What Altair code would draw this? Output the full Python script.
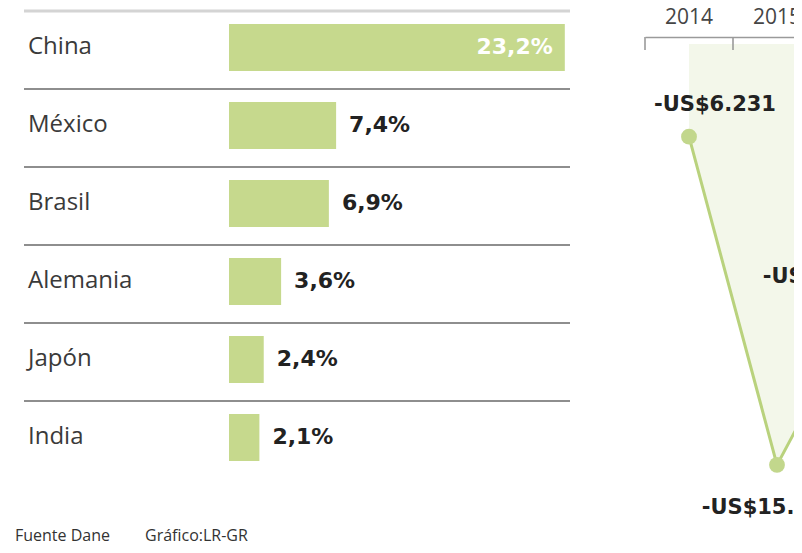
import altair as alt
import pandas as pd

# ---- data ----
paises = ["China", "México", "Brasil", "Alemania", "Japón", "India"]
participacion = [23.2, 7.4, 6.9, 3.6, 2.4, 2.1]

anios = ["2014", "2015", "2016"]
balanza = [-6231, -15581, -10900]

fuente = ["Fuente Dane"]
grafico = ["Gráfico:LR-GR"]

# ---- styles ----
GREEN_BAR = "#c6d98d"
GREEN_LINE = "#b9d27d"
GREEN_PT = "#c2d78c"
GREEN_AREA = "#f3f7ea"
TXT = "#3a3a3a"

df_bar = pd.DataFrame({"pais": paises, "v": participacion})
df_line = pd.DataFrame({"anio": anios, "m": balanza})

# ---- left panel: bars ----
ys = alt.Scale(domain=paises, range=[-26, 442], paddingInner=0, paddingOuter=0)
xs = alt.Scale(domain=[0, 40], range=[221, 800])
Y = alt.Y("pais:N", scale=ys, axis=None, sort=paises)
XV = alt.X("v:Q", scale=xs, axis=None)

base_l = alt.Chart(df_bar)

rules = base_l.mark_rule().encode(
    y=alt.Y("pais:N", scale=ys, axis=None, sort=paises, bandPosition=0),
    x=alt.value(16),
    x2=alt.value(562),
    color=alt.condition(alt.datum.pais == paises[0], alt.value("#d4d4d4"), alt.value("#8e8e8e")),
    strokeWidth=alt.condition(alt.datum.pais == paises[0], alt.value(3), alt.value(1.8)),
)

bars = base_l.mark_bar(height=47, yOffset=-2.5, color=GREEN_BAR).encode(y=Y, x=XV)

names = base_l.mark_text(
    align="left", baseline="middle", font="Open Sans", fontSize=24, color=TXT, dy=-3
).encode(y=Y, x=alt.value(20), text="pais:N")

vals = base_l.transform_calculate(
    lbl="replace(format(datum.v, '.1f'), '.', ',') + '%'"
)
vals_out = vals.transform_filter(alt.datum.pais != paises[0]).mark_text(
    align="left", baseline="middle", dx=13, dy=-3, font="DejaVu Sans",
    fontWeight="bold", fontSize=22, color="#222222"
).encode(y=Y, x=XV, text="lbl:N")
vals_in = vals.transform_filter(alt.datum.pais == paises[0]).mark_text(
    align="right", baseline="middle", dx=-12, dy=-3, font="DejaVu Sans",
    fontWeight="bold", fontSize=22, color="#ffffff"
).encode(y=Y, x=XV, text="lbl:N")

foot1 = alt.Chart(pd.DataFrame({"t": fuente})).mark_text(
    align="left", baseline="middle", font="Open Sans", fontSize=16, color="#333333"
).encode(x=alt.value(7), y=alt.value(499), text="t:N")
foot2 = alt.Chart(pd.DataFrame({"t": grafico})).mark_text(
    align="left", baseline="middle", font="Open Sans", fontSize=16, color="#333333"
).encode(x=alt.value(137), y=alt.value(499), text="t:N")

left = alt.layer(rules, bars, names, vals_out, vals_in, foot1, foot2)

# ---- right panel: line ----
xr = alt.Scale(type="band", domain=anios, range=[637, 901], paddingInner=0, paddingOuter=0)
yr = alt.Scale(domain=[0, -20000], range=[-119, 583])
ax = alt.Axis(
    orient="top", ticks=False, tickSize=0, domainColor="#9a9a9a", domainWidth=1.6,
    labelFont="Open Sans", labelFontSize=21, labelColor="#454545", labelPadding=14,
    labelBaseline="alphabetic", labelAngle=0, title=None, grid=False,
)
XR = alt.X("anio:N", scale=xr, axis=ax, bandPosition=0.5)
YR = alt.Y("m:Q", scale=yr, axis=None, stack=None)

base_r = alt.Chart(df_line).transform_calculate(
    lbl="'-US$' + replace(format(abs(datum.m), ','), ',', '.')"
)

area = base_r.mark_area(color=GREEN_AREA).encode(x=XR, y=YR, y2=alt.value(7))
ticks = base_r.mark_rule(color="#9a9a9a", strokeWidth=1.6).encode(
    x=alt.X("anio:N", scale=xr, axis=ax, bandPosition=0), y=alt.value(0), y2=alt.value(13)
)
line = base_r.mark_line(color=GREEN_LINE, strokeWidth=3).encode(x=XR, y=YR)
pts = base_r.mark_circle(size=250, color=GREEN_PT, opacity=1).encode(x=XR, y=YR)


def lab(year, dx, dy):
    return base_r.transform_filter(alt.datum.anio == year).mark_text(
        align="center", baseline="middle", dx=dx, dy=dy, font="DejaVu Sans",
        fontWeight="bold", fontSize=21, color="#222222"
    ).encode(x=XR, y=YR, text="lbl:N")


right = alt.layer(area, ticks, line, pts, lab(anios[0], 26, -32), lab(anios[1], -7, 43), lab(anios[2], -34, -24))

chart = alt.layer(left, right).resolve_scale(x="independent", y="independent").properties(
    width=786, height=508,
    autosize=alt.AutoSizeParams(type="none"),
    padding={"left": 0, "top": 29, "right": 0, "bottom": 0},
    background="white",
).configure_view(stroke=None)

chart.save("out.html", embed_options={"renderer": "svg", "actions": False})
